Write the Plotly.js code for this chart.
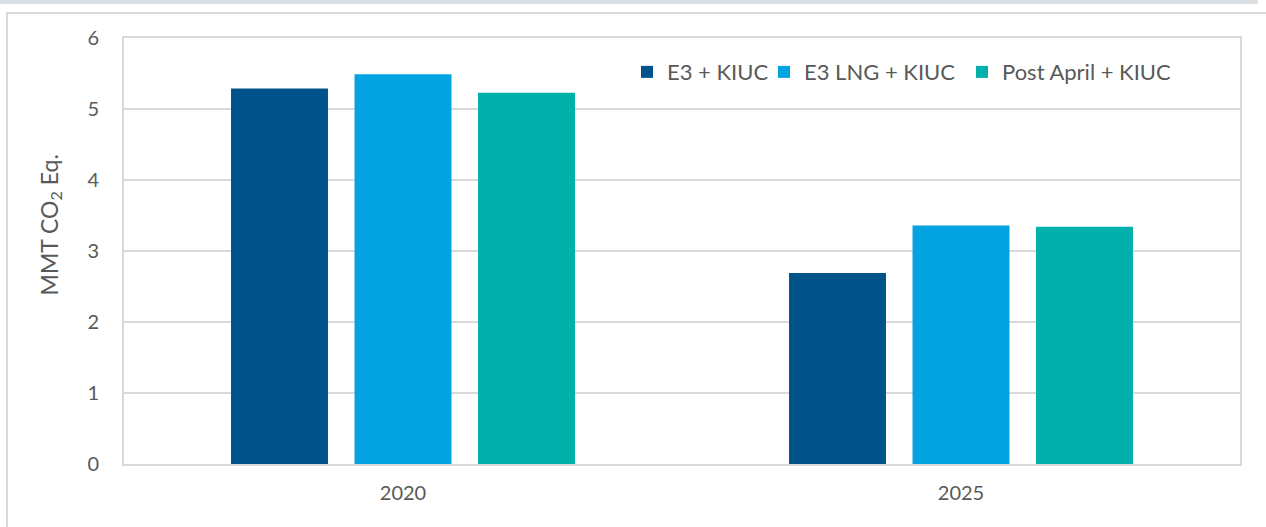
<!DOCTYPE html>
<html>
<head>
<meta charset="utf-8">
<script src="https://cdn.plot.ly/plotly-3.0.1.min.js"></script>
<style>
  html, body { margin: 0; padding: 0; background: #ffffff; }
  #wrap { position: relative; width: 1266px; height: 527px; overflow: hidden; background: #ffffff; }
  #strip { position: absolute; left: 0; top: 0; width: 1258px; height: 4px; background: #d9dfe3; }
  #frame { position: absolute; left: 6px; top: 12px; width: 1270px; height: 530px; border-left: 2px solid #d9d9d9; border-top: 2px solid #d9d9d9; box-sizing: border-box; }
  #chart { position: absolute; left: 0; top: 0; width: 1266px; height: 527px; }
</style>
</head>
<body>
<div id="wrap">
  <div id="strip"></div>
  <div id="frame"></div>
  <div id="chart"></div>
</div>
<script>
const categories = ["2020", "2025"];
const seriesNames = ["E3 + KIUC", "E3 LNG + KIUC", "Post April + KIUC"];
const e3Kiuc = [5.29, 2.69];
const e3LngKiuc = [5.49, 3.36];
const postAprilKiuc = [5.23, 3.34];
const yTicks = [0, 1, 2, 3, 4, 5, 6];
const yTitle = "MMT CO<sub>2</sub> Eq.";

const colors = ["#00538a", "#03a3e2", "#00b0aa"];
const values = [e3Kiuc, e3LngKiuc, postAprilKiuc];
const legendIds = ["legend", "legend2", "legend3"];
const legendX = [0.4507, 0.5735, 0.7509];

const traces = seriesNames.map((name, i) => ({
  type: "bar",
  name: name,
  x: categories,
  y: values[i],
  legend: legendIds[i],
  marker: { color: colors[i], line: { width: 0 } },
  hoverinfo: "x+y+name"
}));

const family = "Lato, 'Open Sans', sans-serif";
const textColor = "#595959";

function legendSpec(i) {
  return {
    orientation: "h",
    x: legendX[i],
    xanchor: "left",
    y: 0.92,
    yanchor: "middle",
    font: { family: family, size: 22, color: textColor },
    bgcolor: "rgba(0,0,0,0)",
    itemwidth: 30
  };
}

const layout = {
  width: 1266,
  height: 527,
  paper_bgcolor: "rgba(0,0,0,0)",
  plot_bgcolor: "rgba(0,0,0,0)",
  margin: { l: 124, r: 26, t: 38, b: 63 },
  barmode: "group",
  bargap: 0.336,
  bargroupgap: 0.215,
  font: { family: family, size: 20, color: textColor },
  showlegend: true,
  legend: legendSpec(0),
  legend2: legendSpec(1),
  legend3: legendSpec(2),
  xaxis: {
    type: "category",
    showgrid: false,
    showline: true,
    linecolor: "#d9d9d9",
    linewidth: 2,
    mirror: true,
    ticks: "",
    tickfont: { family: family, size: 20, color: textColor },
    ticklabelstandoff: 10
  },
  yaxis: {
    range: [0, 6],
    tickvals: yTicks,
    ticktext: yTicks.map(String),
    showgrid: true,
    gridcolor: "#d9d9d9",
    gridwidth: 1.5,
    zeroline: false,
    showline: true,
    linecolor: "#d9d9d9",
    linewidth: 2,
    mirror: true,
    ticks: "",
    ticklabelstandoff: 19,
    tickfont: { family: family, size: 20, color: textColor }
  },
  annotations: [{
    text: yTitle,
    xref: "paper",
    yref: "paper",
    x: -0.0663,
    y: 0.56,
    xanchor: "center",
    yanchor: "middle",
    textangle: -90,
    showarrow: false,
    font: { family: family, size: 23, color: textColor }
  }]
};

Plotly.newPlot("chart", traces, layout, { displayModeBar: false, staticPlot: true });
</script>
</body>
</html>
